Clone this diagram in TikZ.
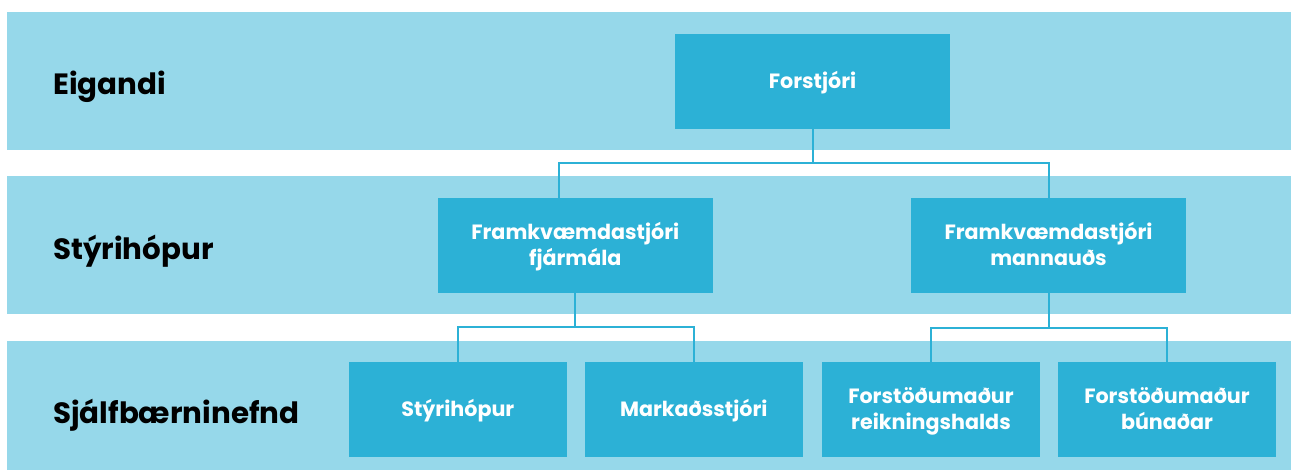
\documentclass[tikz,border=0pt]{standalone}
\usepackage{fontspec}
\setmainfont{Poppins}
\definecolor{bandblue}{HTML}{96D8EA}
\definecolor{boxblue}{HTML}{2CB1D6}
\begin{document}
\begin{tikzpicture}[x=0.75pt,y=-0.75pt,
  band/.style={fill=bandblue,draw=none},
  orgbox/.style={fill=boxblue,draw=none,inner sep=0pt,text=white,align=center,
    font={\bfseries\fontsize{15.5}{19.3}\selectfont}},
  one/.style={text height=11.25pt,text depth=0pt},
  two/.style={text height=30.55pt,text depth=0pt},
  lvl/.style={anchor=base west,inner sep=0pt,text=black,font={\bfseries\fontsize{22}{26}\selectfont}},
  conn/.style={draw=boxblue,line width=1.5pt}]
\useasboundingbox (0,0) rectangle (1291,470);
\fill[band] (7,12) rectangle (1291,150);
\fill[band] (7,176) rectangle (1291,314);
\fill[band] (7,341) rectangle (1291,470);
\node[lvl] (l1) at (53,95) {Eigandi};
\node[lvl] (l2) at (53,259.3) {Stýrihópur};
\node[lvl] (l3) at (53,423) {Sjálfbærninefnd};
\node[orgbox,one,minimum width=275*0.75pt,minimum height=94.7*0.75pt] (f) at (812.5,81.3) {Forstjóri};
\node[orgbox,two,minimum width=274.7*0.75pt,minimum height=94.7*0.75pt] (ff) at (575.3,245.3) {Framkvæmdastjóri\\fjármála};
\node[orgbox,two,minimum width=275*0.75pt,minimum height=94.7*0.75pt] (mm) at (1048.5,245.3) {Framkvæmdastjóri\\mannauðs};
\node[orgbox,one,minimum width=217.7*0.75pt,minimum height=94.7*0.75pt] (s) at (457.8,409.3) {Stýrihópur};
\node[orgbox,one,minimum width=217.7*0.75pt,minimum height=94.7*0.75pt] (m) at (693.8,409.3) {Markaðsstjóri};
\node[orgbox,two,minimum width=218*0.75pt,minimum height=94.7*0.75pt] (r) at (931,409.3) {Forstöðumaður\\reikningshalds};
\node[orgbox,two,minimum width=218*0.75pt,minimum height=94.7*0.75pt] (b) at (1167,409.3) {Forstöðumaður\\búnaðar};
\coordinate (j1) at (812.5,163.3);
\coordinate (ffin) at (558.7,198);
\draw[conn] (f.south) -- (j1);
\draw[conn] (ffin) |- (j1) -| (mm.north);
\draw[conn] (ff.south) -- ++(0,34.3) coordinate (j2);
\draw[conn] (s.north) |- (j2) -| (m.north);
\draw[conn] (mm.south) -- ++(0,34.7) coordinate (j3);
\draw[conn] (r.north) |- (j3) -| (b.north);
\end{tikzpicture}
\end{document}
